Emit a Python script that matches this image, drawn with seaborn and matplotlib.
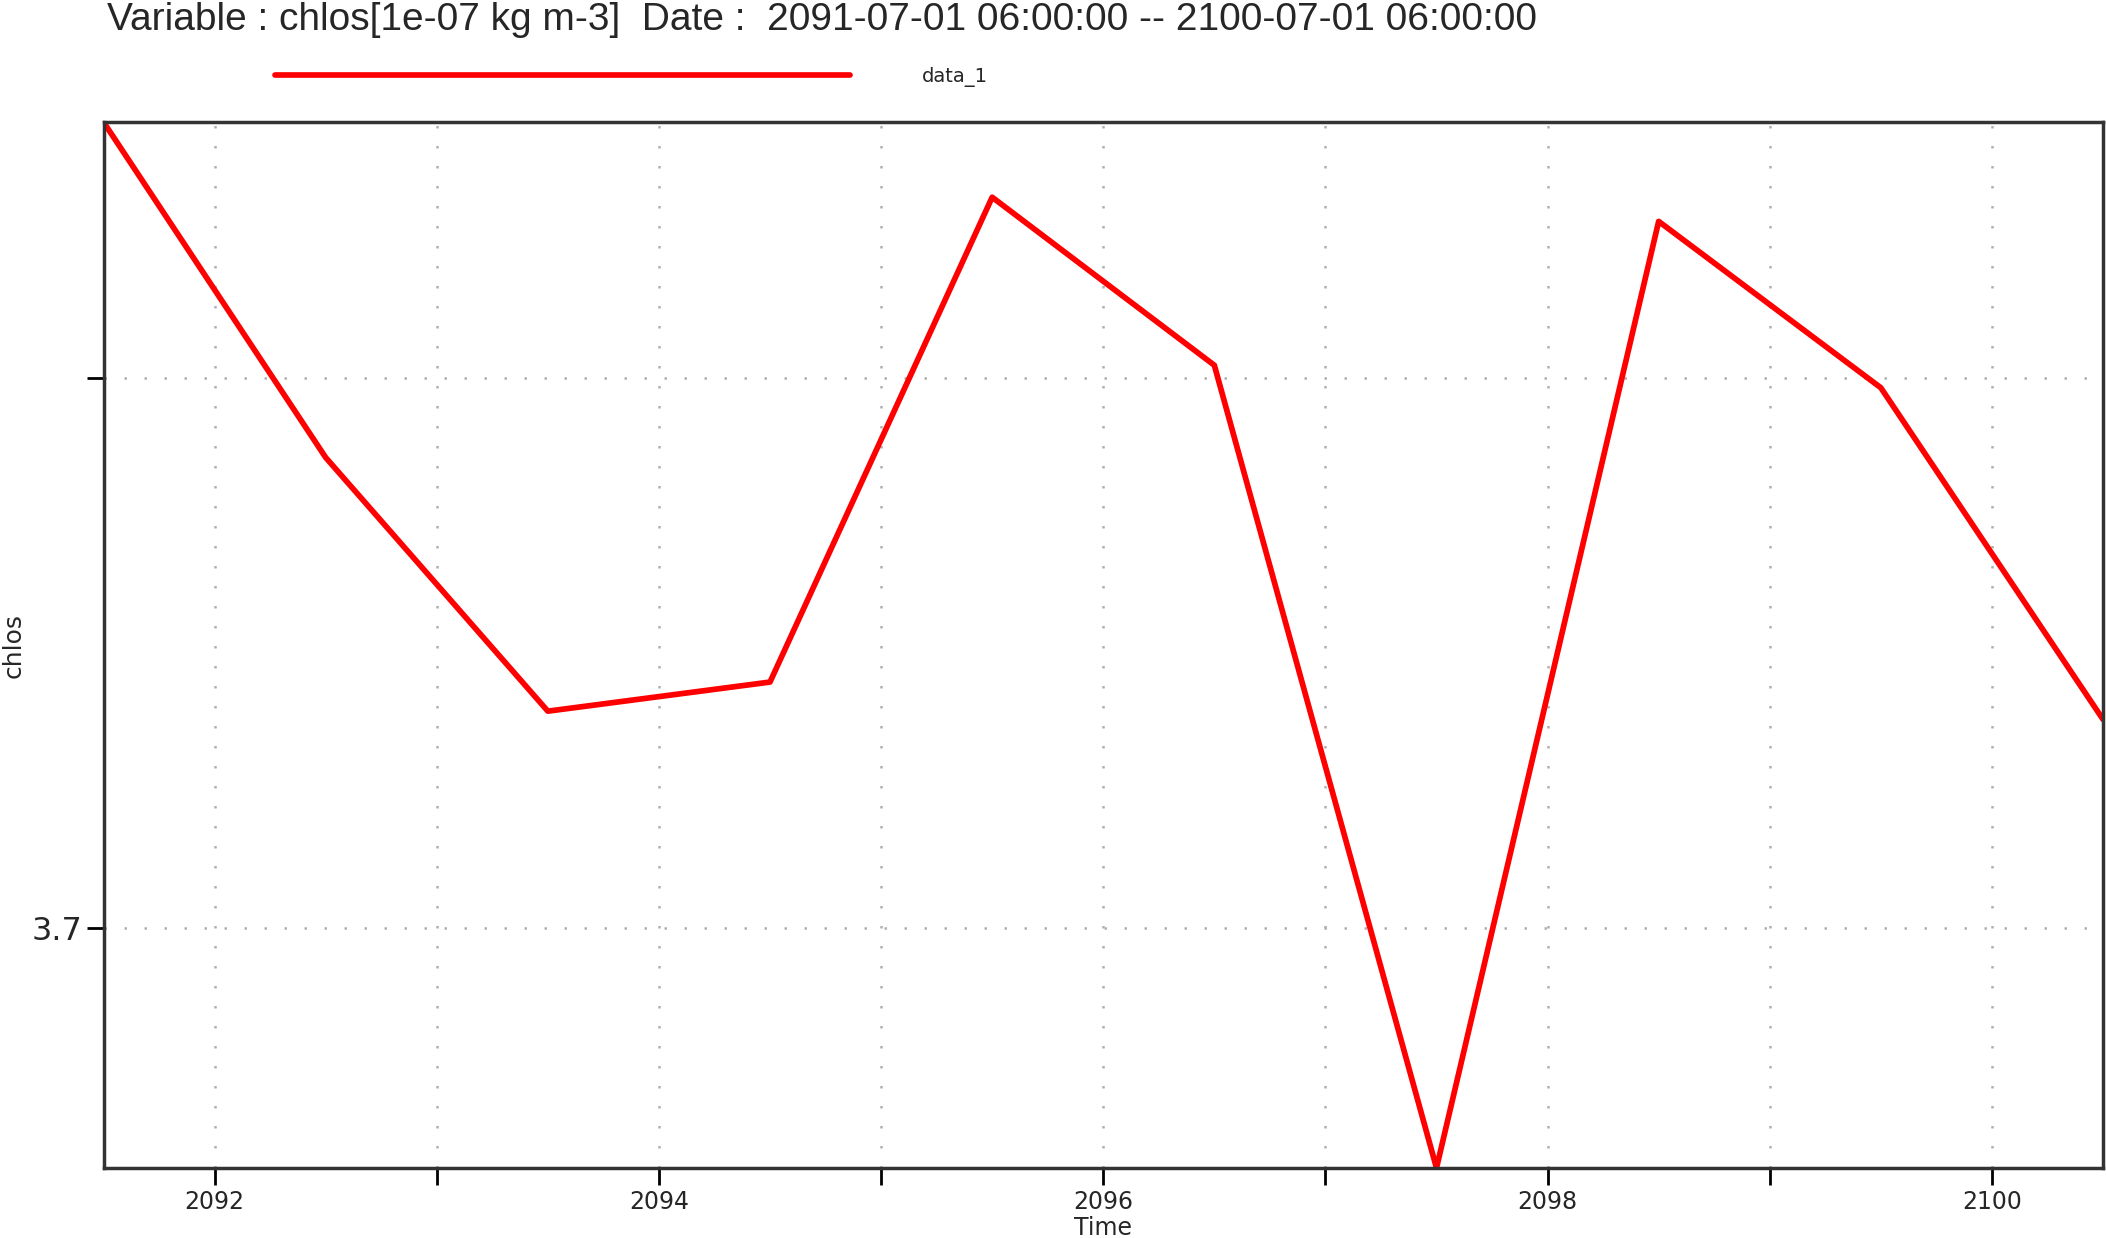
import numpy as np
import pandas as pd
import matplotlib
matplotlib.use("Agg")
import matplotlib.pyplot as plt
import seaborn as sns

years = [2091.5, 2092.5, 2093.5, 2094.5, 2095.5, 2096.5, 2097.5, 2098.5, 2099.5, 2100.5]
chlos = [3.71467, 3.70856, 3.70394, 3.70447, 3.71330, 3.71024, 3.69562, 3.71286, 3.70983, 3.70379]
x_ticks = list(range(2092, 2101))
x_labels = [str(t) if t % 2 == 0 else "" for t in x_ticks]
y_ticks = [3.70, 3.71]
y_labels = ["3.7", ""]

df = pd.DataFrame({"Time": years, "chlos": chlos})

sns.set_style("white")
plt.rcParams['font.family'] = ['DejaVu Sans']

fig = plt.figure(figsize=(21.06, 12.38), dpi=100)
ax = fig.add_axes([103.5/2106, 1 - 1168/1238, (2103-103.5)/2106, (1168-122)/1238])

sns.lineplot(data=df, x="Time", y="chlos", color="#ff0000", linewidth=4.1,
             ax=ax, label="data_1")

ax.set_xlim(min(years), max(years))
ax.set_ylim(min(chlos), max(chlos))
ax.set_xticks(x_ticks)
ax.set_xticklabels(x_labels, fontsize=17)
ax.set_yticks(y_ticks)
ax.set_yticklabels(y_labels, fontsize=23)
ax.tick_params(axis="both", direction="out", length=12, width=2, color="black",
               bottom=True, left=True)
ax.grid(True, color="#b0b0b0", linestyle=(0, (1, 7)), linewidth=1.8)

for s in ax.spines.values():
    s.set_color("#333333")
    s.set_linewidth(2.5)

ax.set_xlabel("Time", fontsize=17, labelpad=2)
ax.set_ylabel("chlos", fontsize=18)
ax.yaxis.set_label_coords(-0.039, 0.5)

leg = ax.legend(loc="center left", bbox_to_anchor=(257/2106, 1 - 77/1238),
                bbox_transform=fig.transFigure, frameon=False, fontsize=14,
                handlelength=29.6, handletextpad=3.7)
for h in leg.get_lines():
    h.set_linewidth(4.1)

fig.text(107/2106, 1 - 20/1238, "Variable : chlos[1e-07 kg m-3]  Date :  2091-07-01 06:00:00 -- 2100-07-01 06:00:00",
         fontsize=28, family="Liberation Sans", va="center", ha="left")

fig.savefig("out.png", dpi=100)
